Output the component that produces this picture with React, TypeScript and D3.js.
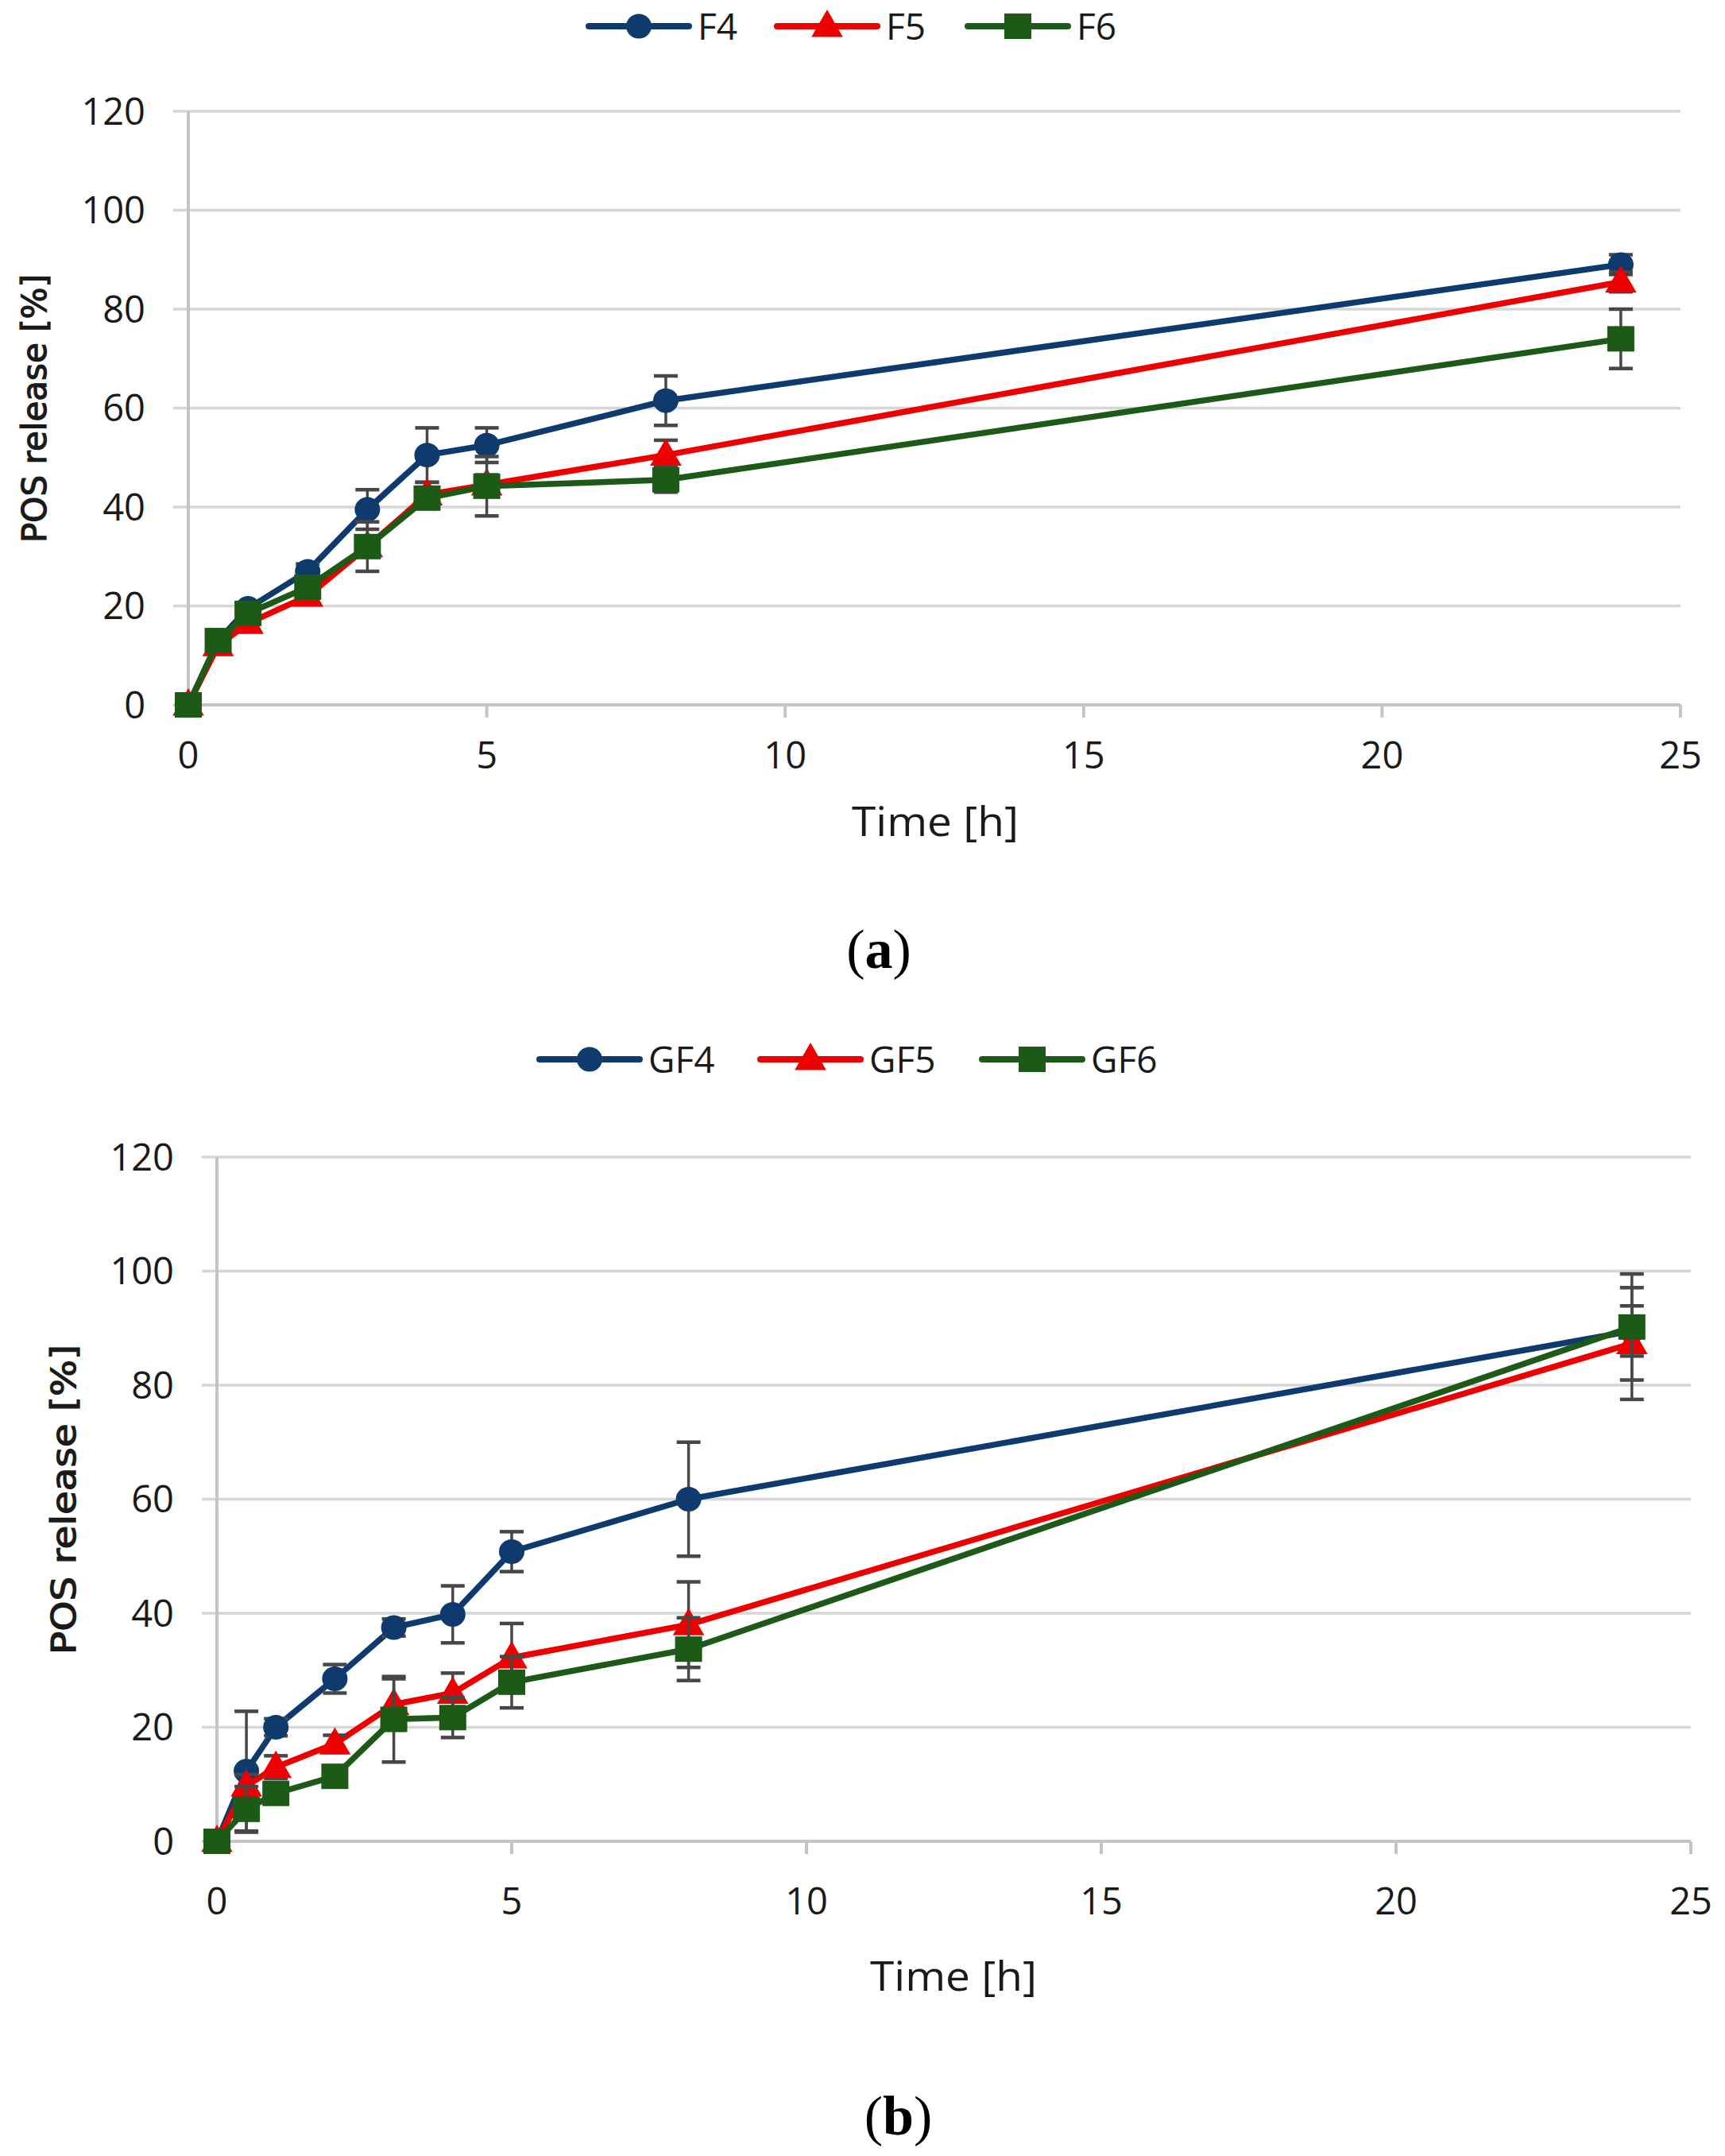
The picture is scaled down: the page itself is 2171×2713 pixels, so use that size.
import { useEffect, useRef } from "react";
import * as d3 from "d3";

// sampling times [h]
const times = [0, 0.5, 1, 2, 3, 4, 5, 8, 24];

// panel (a)
const f4 = [0, 13, 19.5, 27, 39.5, 50.5, 52.5, 61.5, 89];
const f4Err = [0, 0.5, 1, 1.5, 4, 5.5, 3.5, 5, 2];
const f5 = [0, 12, 16.5, 22, 32, 42.5, 44.5, 50.5, 85.5];
const f5Err = [0, 0.5, 1, 1, 2, 2.5, 2, 3, 2];
const f6 = [0, 13, 18.5, 23.8, 32, 41.8, 44.2, 45.5, 74];
const f6Err = [0, 1, 1, 1.5, 5, 2, 6, 2.5, 6];

// panel (b)
const gf4 = [0, 12.3, 20, 28.5, 37.5, 39.8, 50.8, 60, 89.5];
const gf4Err = [0, 10.5, 1.5, 2.5, 1.5, 5, 3.5, 10, 4.4];
const gf5 = [0, 9.7, 13, 17.1, 24, 26, 32.2, 38, 87.3];
const gf5Err = [0, 2, 2, 1.5, 4.5, 3.5, 6, 7.5, 9.8];
const gf6 = [0, 5.6, 8.4, 11.4, 21.4, 21.7, 27.9, 33.7, 90.2];
const gf6Err = [0, 4, 1, 1, 7.5, 3.5, 4.5, 5.5, 9.3];

const xTicks = [0, 5, 10, 15, 20, 25];
const yTicks = [0, 20, 40, 60, 80, 100, 120];

const colors = { blue: "#0f3a6e", red: "#ee0000", green: "#1d5a17" };
const errColor = "#474747";
const gridColor = "#d6d6d6";

type Series = { name: string; values: number[]; err: number[]; color: string; marker: "circle" | "triangle" | "square" };

const panelA: Series[] = [
  { name: "F4", values: f4, err: f4Err, color: colors.blue, marker: "circle" },
  { name: "F5", values: f5, err: f5Err, color: colors.red, marker: "triangle" },
  { name: "F6", values: f6, err: f6Err, color: colors.green, marker: "square" },
];
const panelB: Series[] = [
  { name: "GF4", values: gf4, err: gf4Err, color: colors.blue, marker: "circle" },
  { name: "GF5", values: gf5, err: gf5Err, color: colors.red, marker: "triangle" },
  { name: "GF6", values: gf6, err: gf6Err, color: colors.green, marker: "square" },
];

const tickFont = "'Open Sans', 'Liberation Sans', sans-serif";

function drawMarker(g: d3.Selection<SVGGElement, unknown, null, undefined>, kind: string, cx: number, cy: number, color: string) {
  if (kind === "circle") {
    g.append("ellipse").attr("cx", cx).attr("cy", cy).attr("rx", 16).attr("ry", 15.5).attr("fill", color);
  } else if (kind === "square") {
    g.append("rect").attr("x", cx - 17).attr("y", cy - 16).attr("width", 34).attr("height", 32).attr("fill", color);
  } else {
    const s = d3.symbol(d3.symbolTriangle, 680)();
    g.append("path").attr("d", s as string).attr("transform", `translate(${cx},${cy + 2})`).attr("fill", color);
  }
}

function drawPanel(
  svg: d3.Selection<SVGSVGElement, unknown, null, undefined>,
  series: Series[],
  lay: {
    x0: number; x1: number; y0: number; y1: number;
    legendY: number; legendStarts: number[];
    xLabelDy: number; yTitle: [number, number, number]; xTitle: [number, number];
    caption: string; captionY: number;
  }
) {
  const g = svg.append("g");
  const x = d3.scaleLinear().domain([0, 25]).range([lay.x0, lay.x1]);
  const y = d3.scaleLinear().domain([0, 120]).range([lay.y0, lay.y1]);

  // gridlines + y ticks
  g.selectAll(".grid")
    .data(yTicks.filter(d => d > 0))
    .enter()
    .append("line")
    .attr("x1", lay.x0 - 19)
    .attr("x2", lay.x1)
    .attr("y1", d => y(d))
    .attr("y2", d => y(d))
    .attr("stroke", gridColor)
    .attr("stroke-width", 3.5);

  // axes
  g.append("line").attr("x1", lay.x0).attr("x2", lay.x0).attr("y1", y(120)).attr("y2", y(0))
    .attr("stroke", "#c4c4c4").attr("stroke-width", 4);
  g.append("line").attr("x1", lay.x0 - 19).attr("x2", lay.x1).attr("y1", y(0)).attr("y2", y(0))
    .attr("stroke", "#c4c4c4").attr("stroke-width", 4);
  g.selectAll(".xt")
    .data(xTicks)
    .enter()
    .append("line")
    .attr("x1", d => x(d)).attr("x2", d => x(d))
    .attr("y1", y(0)).attr("y2", y(0) + 16)
    .attr("stroke", "#c4c4c4").attr("stroke-width", 4);

  // tick labels
  g.selectAll(".yl")
    .data(yTicks)
    .enter()
    .append("text")
    .attr("x", lay.x0 - 54)
    .attr("y", d => y(d))
    .attr("dy", "0.36em")
    .attr("text-anchor", "end")
    .attr("font-family", tickFont)
    .attr("font-size", 47)
    .attr("fill", "#1a1a1a")
    .text(d => d);
  g.selectAll(".xl")
    .data(xTicks)
    .enter()
    .append("text")
    .attr("x", d => x(d))
    .attr("y", y(0) + lay.xLabelDy)
    .attr("dy", "0.36em")
    .attr("text-anchor", "middle")
    .attr("font-family", tickFont)
    .attr("font-size", 47)
    .attr("fill", "#1a1a1a")
    .text(d => d);

  // axis titles
  g.append("text")
    .attr("transform", `translate(${lay.yTitle[0]},${lay.yTitle[1]}) rotate(-90)`)
    .attr("text-anchor", "middle")
    .attr("dy", "0.36em")
    .attr("font-family", "'DejaVu Sans', Verdana, sans-serif")
    .attr("font-size", 42)
    .attr("textLength", lay.yTitle[2])
    .attr("lengthAdjust", "spacingAndGlyphs")
    .attr("fill", "#1a1a1a")
    .attr("stroke", "#1a1a1a")
    .attr("stroke-width", 1.2)
    .text("POS release [%]");
  g.append("text")
    .attr("x", lay.xTitle[0])
    .attr("y", lay.xTitle[1])
    .attr("dy", "0.36em")
    .attr("text-anchor", "middle")
    .attr("font-family", tickFont)
    .attr("font-size", 52)
    .attr("textLength", 210)
    .attr("lengthAdjust", "spacingAndGlyphs")
    .attr("fill", "#1a1a1a")
    .text("Time [h]");

  // series
  const line = d3.line<number>().x((_, i) => x(times[i])).y(d => y(d));
  series.forEach(s => {
    const sg = g.append("g");
    sg.append("path")
      .attr("d", line(s.values) as string)
      .attr("fill", "none")
      .attr("stroke", s.color)
      .attr("stroke-width", 7.5)
      .attr("stroke-linejoin", "round");
    s.values.forEach((v, i) => {
      const e = s.err[i];
      if (e <= 0) return;
      const cx = x(times[i]);
      sg.append("line").attr("x1", cx).attr("x2", cx).attr("y1", y(v - e)).attr("y2", y(v + e))
        .attr("stroke", errColor).attr("stroke-width", 3.5);
      [v - e, v + e].forEach(yy => {
        sg.append("line").attr("x1", cx - 15).attr("x2", cx + 15).attr("y1", y(yy)).attr("y2", y(yy))
          .attr("stroke", errColor).attr("stroke-width", 4.5);
      });
    });
    s.values.forEach((v, i) => drawMarker(sg, s.marker, x(times[i]), y(v), s.color));
  });

  // legend
  series.forEach((s, i) => {
    const lx = lay.legendStarts[i];
    const lg = g.append("g");
    lg.append("line").attr("x1", lx).attr("x2", lx + 126).attr("y1", lay.legendY).attr("y2", lay.legendY)
      .attr("stroke", s.color).attr("stroke-width", 8).attr("stroke-linecap", "round");
    drawMarker(lg, s.marker, lx + 63, lay.legendY, s.color);
    lg.append("text")
      .attr("x", lx + 137)
      .attr("y", lay.legendY)
      .attr("dy", "0.36em")
      .attr("font-family", tickFont)
      .attr("font-size", 46)
      .attr("fill", "#1a1a1a")
      .text(s.name);
  });

  // caption
  const cap = g.append("text")
    .attr("x", (lay.x0 + lay.x1) / 2 - 70)
    .attr("y", lay.captionY)
    .attr("text-anchor", "middle")
    .attr("font-family", "'Liberation Serif', 'Times New Roman', serif")
    .attr("font-size", 70)
    .attr("fill", "#000");
  cap.append("tspan").text("(");
  cap.append("tspan").attr("font-weight", "bold").text(lay.caption);
  cap.append("tspan").text(")");
}

export default function App() {
  const ref = useRef<SVGSVGElement | null>(null);

  useEffect(() => {
    const svg = d3.select(ref.current as SVGSVGElement);
    svg.selectAll("*").remove();
    drawPanel(svg, panelA, {
      x0: 237, x1: 2115, y0: 887, y1: 140,
      legendY: 33, legendStarts: [741, 978, 1218],
      xLabelDy: 63, yTitle: [43, 514, 338], xTitle: [1177, 1033],
      caption: "a", captionY: 1218,
    });
    drawPanel(svg, panelB, {
      x0: 273, x1: 2128, y0: 2317, y1: 1456,
      legendY: 1333, legendStarts: [679, 957, 1236],
      xLabelDy: 75, yTitle: [80, 1887, 390], xTitle: [1200, 2486],
      caption: "b", captionY: 2686,
    });
  }, []);

  return (
    <div style={{ position: "absolute", left: 0, top: 0 }}>
      <svg ref={ref} width={2171} height={2713} style={{ display: "block", background: "#fff" }} />
    </div>
  );
}
